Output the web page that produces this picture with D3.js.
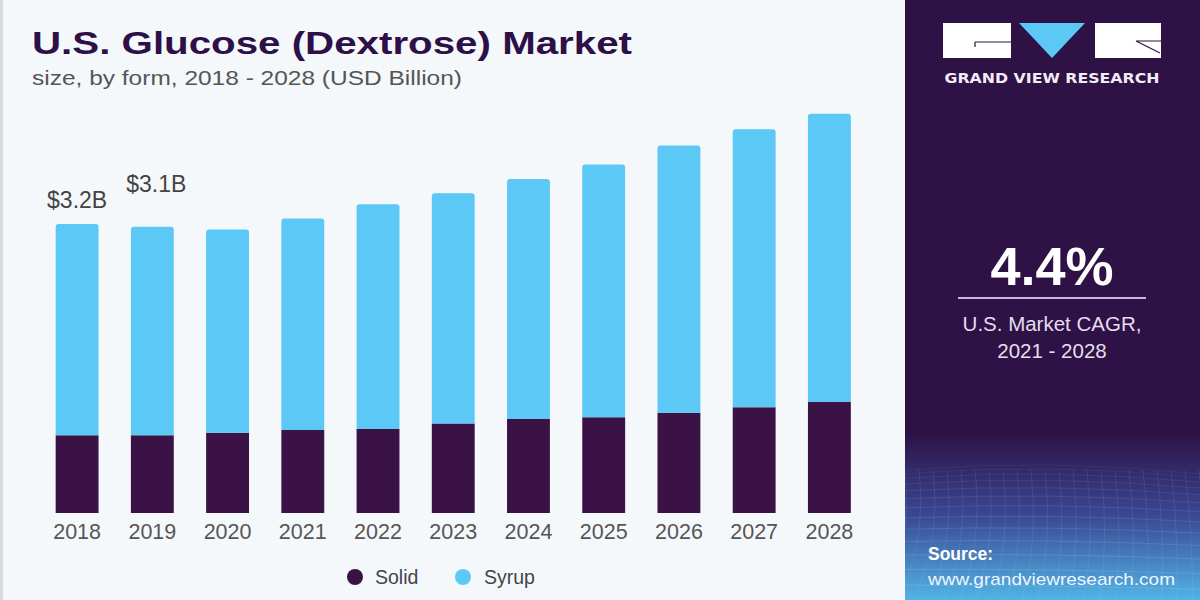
<!DOCTYPE html>
<html lang="en">
<head>
<meta charset="utf-8">
<title>U.S. Glucose (Dextrose) Market</title>
<script src="https://d3js.org/d3.v7.min.js"></script>
<style>
  body { margin: 0; background: #f5f8fb; }
  svg { display: block; }
</style>
</head>
<body>
<svg width="1200" height="600"></svg>
<script>
// data (USD Billion)
const years = ["2018","2019","2020","2021","2022","2023","2024","2025","2026","2027","2028"];
const solid = [0.86, 0.86, 0.89, 0.92, 0.93, 0.99, 1.04, 1.06, 1.11, 1.17, 1.23];
const syrup = [2.34, 2.31, 2.25, 2.34, 2.49, 2.55, 2.66, 2.80, 2.96, 3.08, 3.19];
const valueLabels = ["$3.2B", "$3.1B"];
const seriesNames = ["Solid", "Syrup"];
const colors = ["#3a1245", "#5bc8f5"];

const svg = d3.select("svg");
const W = 1200, H = 600;
const font = "'Liberation Sans', Arial, sans-serif";

svg.append("rect").attr("width", W).attr("height", H).attr("fill", "#f5f8fb");
svg.append("rect").attr("x", 0).attr("y", 0).attr("width", 3).attr("height", H).attr("fill", "#d8dadf");

// title
svg.append("text").attr("x", 32).attr("y", 54)
   .attr("font-family", font).attr("font-weight", 900)
   .attr("font-size", 32).attr("fill", "#2d1048")
   .attr("textLength", 600).attr("lengthAdjust", "spacingAndGlyphs")
   .text("U.S. Glucose (Dextrose) Market");
svg.append("text").attr("x", 32).attr("y", 85)
   .attr("font-family", font)
   .attr("font-size", 21).attr("fill", "#555")
   .attr("textLength", 430).attr("lengthAdjust", "spacingAndGlyphs")
   .text("size, by form, 2018 - 2028 (USD Billion)");

// scales
const x = d3.scaleBand().domain(years).range([39.5, 867]).paddingInner(0.43).paddingOuter(0.215);
const y = d3.scaleLinear().domain([0, 4.5]).range([513, 513 - 4.5 * 90.3]);

const data = years.map((yr, i) => ({ year: yr, solid: solid[i], syrup: syrup[i] }));
const stack = d3.stack().keys(["solid", "syrup"])(data);

const g = svg.append("g");
const r = 3;
stack.forEach((layer, li) => {
  g.selectAll(null).data(layer).enter().append("path")
   .attr("fill", colors[li])
   .attr("d", d => {
     const x0 = x(d.data.year), w = x.bandwidth();
     const y0 = y(d[0]), y1 = y(d[1]);
     if (li === 1) {
       return `M${x0},${y0}V${y1 + r}Q${x0},${y1} ${x0 + r},${y1}H${x0 + w - r}Q${x0 + w},${y1} ${x0 + w},${y1 + r}V${y0}Z`;
     }
     return `M${x0},${y0}V${y1}H${x0 + w}V${y0}Z`;
   });
});

// value labels for first two bars
valueLabels.forEach((lab, i) => {
  const d = data[i];
  svg.append("text")
     .attr("x", x(d.year) + x.bandwidth() / 2 + (i === 0 ? 0 : 4))
     .attr("y", i === 0 ? y(d.solid + d.syrup) - 16 : y(d.solid + d.syrup) - 35)
     .attr("text-anchor", "middle")
     .attr("font-family", font)
     .attr("font-size", 23).attr("fill", "#444")
     .text(lab);
});

// x axis labels
svg.append("g").attr("transform", "translate(0,513)")
   .call(d3.axisBottom(x).tickSize(0).tickPadding(11))
   .call(a => a.select(".domain").remove())
   .selectAll("text")
   .attr("font-family", font)
   .attr("font-size", 21.5).attr("fill", "#555");

// legend
const lg = svg.append("g");
[{ cx: 355, tx: 375 }, { cx: 463, tx: 484 }].forEach((p, i) => {
  lg.append("circle").attr("cx", p.cx).attr("cy", 577).attr("r", 8).attr("fill", colors[i]);
  lg.append("text").attr("x", p.tx).attr("y", 584)
    .attr("font-family", font)
    .attr("font-size", 19.5).attr("fill", "#444").text(seriesNames[i]);
});

// right panel
const defs = svg.append("defs");
const grad = defs.append("linearGradient").attr("id", "pg").attr("x1", 0).attr("y1", 0).attr("x2", 0).attr("y2", 1);
grad.append("stop").attr("offset", "0").attr("stop-color", "#2e1145");
grad.append("stop").attr("offset", "0.72").attr("stop-color", "#2e1145");
grad.append("stop").attr("offset", "0.86").attr("stop-color", "#3a4894");
grad.append("stop").attr("offset", "1").attr("stop-color", "#52b4e6");
svg.append("rect").attr("x", 905).attr("y", 0).attr("width", 295).attr("height", H).attr("fill", "url(#pg)");

// mesh at the bottom of the panel
const mesh = svg.append("g").attr("stroke", "#bfe6ff").attr("fill", "none").attr("stroke-width", 0.7);
d3.range(0, 16).forEach(i => {
  const yy = 470 + i * i * 0.55 + i * 3;
  mesh.append("path").attr("opacity", 0.08 + i * 0.015)
      .attr("d", `M905,${yy}Q1050,${yy - 12 + i} 1200,${yy + 4}`);
});
d3.range(0, 22).forEach(i => {
  const xx = 905 + i * 14;
  mesh.append("path").attr("opacity", 0.15)
      .attr("d", `M${xx},470Q${xx + 8},540 ${xx - 6 + (i - 11) * 1.5},600`);
});

// logo
svg.append("rect").attr("x", 943).attr("y", 23).attr("width", 68).attr("height", 35).attr("fill", "#fff");
svg.append("path").attr("d", "M975,42H1011M975,42V47").attr("stroke", "#2e1145").attr("stroke-width", 1.2).attr("fill", "none");
svg.append("path").attr("d", "M1019,23H1085L1052,58Z").attr("fill", "#5bc8f5");
svg.append("rect").attr("x", 1095).attr("y", 23).attr("width", 66).attr("height", 35).attr("fill", "#fff");
svg.append("path").attr("d", "M1136,41H1161M1136,41L1160,53").attr("stroke", "#2e1145").attr("stroke-width", 1.2).attr("fill", "none");
svg.append("text").attr("x", 1052).attr("y", 83).attr("text-anchor", "middle")
   .attr("font-family", "'DejaVu Sans', sans-serif").attr("font-weight", "bold")
   .attr("font-size", 13.5).attr("fill", "#f1ecf6")
   .attr("textLength", 215).attr("lengthAdjust", "spacingAndGlyphs")
   .text("GRAND VIEW RESEARCH");

// CAGR block
svg.append("text").attr("x", 1052).attr("y", 285).attr("text-anchor", "middle")
   .attr("font-family", font).attr("font-weight", "bold")
   .attr("font-size", 54).attr("fill", "#fff").text("4.4%");
svg.append("line").attr("x1", 958).attr("x2", 1146).attr("y1", 298).attr("y2", 298)
   .attr("stroke", "#c9b6df").attr("stroke-width", 2);
svg.append("text").attr("x", 1052).attr("y", 331).attr("text-anchor", "middle")
   .attr("font-family", font)
   .attr("font-size", 20.5).attr("fill", "#e6ddf0").text("U.S. Market CAGR,");
svg.append("text").attr("x", 1052).attr("y", 358).attr("text-anchor", "middle")
   .attr("font-family", font)
   .attr("font-size", 20.5).attr("fill", "#e6ddf0").text("2021 - 2028");

// source
svg.append("text").attr("x", 928).attr("y", 560)
   .attr("font-family", font).attr("font-weight", "bold")
   .attr("font-size", 17.5).attr("fill", "#fff").text("Source:");
svg.append("text").attr("x", 928).attr("y", 585)
   .attr("font-family", font)
   .attr("font-size", 17).attr("fill", "#eef6ff")
   .attr("textLength", 247).attr("lengthAdjust", "spacingAndGlyphs")
   .text("www.grandviewresearch.com");
</script>
</body>
</html>
